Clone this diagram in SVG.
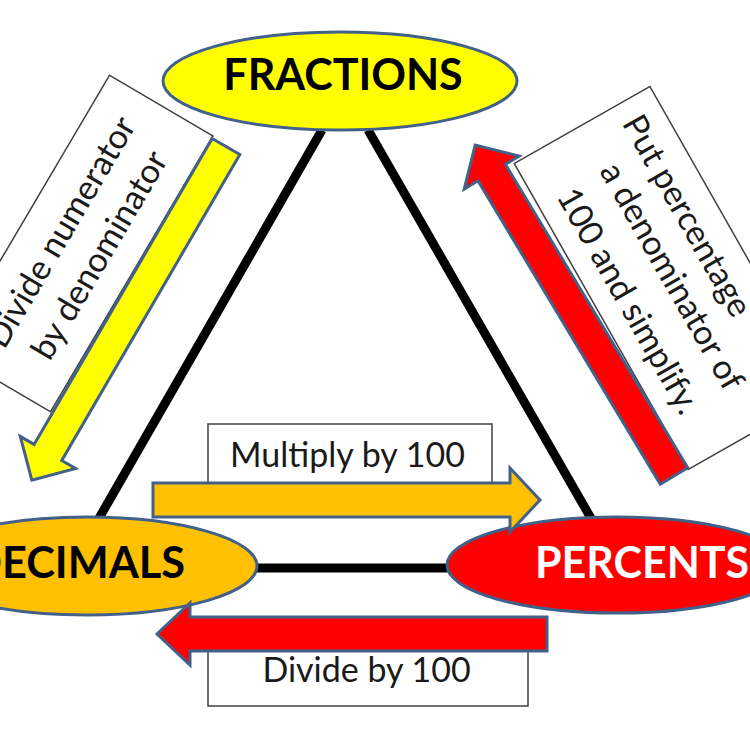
<svg xmlns="http://www.w3.org/2000/svg" width="750" height="750" viewBox="0 0 750 750">
<style>
.box{fill:#fff;stroke:#404040;stroke-width:1.5}
.node{stroke:#41618A;stroke-width:3}
.arr{stroke:#41618A;stroke-width:3;stroke-linejoin:miter}
.lbl{font-family:Lato,"Liberation Sans",sans-serif;font-size:34px;fill:#1a1a1a}
.big{font-family:Lato,"Liberation Sans",sans-serif;font-size:43px;font-weight:bold}
.edge{stroke:#000;stroke-width:9;fill:none}
</style>
<rect width="750" height="750" fill="#fff"/>
<g id="connectors">
<line class="edge" x1="322" y1="130" x2="98" y2="520"/>
<line class="edge" x1="368" y1="130" x2="592" y2="520"/>
<line class="edge" x1="250" y1="568" x2="455" y2="568"/>
</g>
<g id="fractions">
<ellipse class="node" cx="340" cy="81" rx="177" ry="49" fill="#FFFF00"/>
<text class="big" x="343" y="90" text-anchor="middle" fill="#000">FRACTIONS</text>
</g>
<g id="decimals">
<ellipse class="node" cx="87" cy="566" rx="170" ry="49" fill="#FFC000"/>
<text class="big" x="-31" y="578" textLength="216" lengthAdjust="spacingAndGlyphs" fill="#000">DECIMALS</text>
</g>
<g id="percents">
<ellipse class="node" cx="617" cy="565" rx="170" ry="48" fill="#FF0000"/>
<text class="big" x="535" y="578" fill="#fff">PERCENTS</text>
</g>
<g id="fraction-to-decimal">
<g transform="translate(80,243.5) rotate(-59.5)">
<rect class="box" x="-160" y="-60" width="320" height="120"/>
<text class="lbl" x="0" y="-11" text-anchor="middle">Divide numerator</text>
<text class="lbl" x="0" y="34" text-anchor="middle">by denominator</text>
</g>
<polygon class="arr" fill="#FFFF00" transform="translate(226,146.5) rotate(120.2)" points="0,-16 354,-16 354,-32 386,0 354,32 354,16 0,16"/>
</g>
<g id="percent-to-fraction">
<g transform="translate(669,278) rotate(60.4)">
<rect class="box" x="-176" y="-78" width="352" height="156"/>
<text class="lbl" x="-158" y="-35">Put percentage</text>
<text class="lbl" x="0" y="8" text-anchor="middle">a denominator of</text>
<text class="lbl" x="0" y="58" text-anchor="middle">100 and simplify.</text>
</g>
<polygon class="arr" fill="#FF0000" transform="translate(674,476) rotate(-121)" points="0,-16 354,-16 354,-32 386,0 354,32 354,16 0,16"/>
</g>
<g id="decimal-to-percent">
<rect class="box" x="208" y="424" width="284" height="70"/>
<text class="lbl" x="347.5" y="467" text-anchor="middle">Multiply by 100</text>
<polygon class="arr" fill="#FFC000" points="153,483 510,483 510,468 540,500 510,532 510,517 153,517"/>
</g>
<g id="percent-to-decimal">
<rect class="box" x="208" y="640" width="320" height="66"/>
<text class="lbl" x="366.5" y="682" text-anchor="middle">Divide by 100</text>
<polygon class="arr" fill="#FF0000" points="547,617 190,617 190,603 157,634 190,665 190,651 547,651"/>
</g>
</svg>
